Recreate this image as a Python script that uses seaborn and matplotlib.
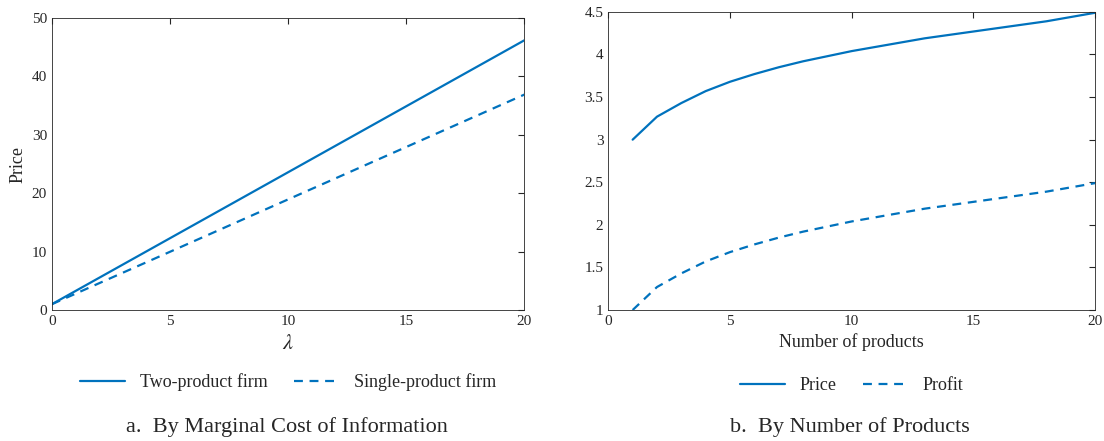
import numpy as np
import pandas as pd
import matplotlib
matplotlib.use("Agg")
import matplotlib.pyplot as plt
import seaborn as sns

# panel a: price against lambda
lam = [0, 20]
two_product = [1.0, 46.2]
single_product = [1.0, 36.9]

# panel b: by number of products
n_products = list(range(1, 21))
price = [3.00, 3.27, 3.43, 3.57, 3.68, 3.77, 3.85, 3.92, 3.98, 4.04,
         4.09, 4.14, 4.19, 4.23, 4.27, 4.31, 4.35, 4.39, 4.44, 4.49]
profit = [1.00, 1.27, 1.43, 1.57, 1.68, 1.77, 1.85, 1.92, 1.98, 2.04,
          2.09, 2.14, 2.19, 2.23, 2.27, 2.31, 2.35, 2.39, 2.44, 2.49]

sns.set_style("white")
plt.rcParams['font.family'] = ['Liberation Serif', 'DejaVu Serif']
plt.rcParams['mathtext.fontset'] = 'stix'
col = '#0072BD'

fig = plt.figure(figsize=(11.04, 4.41), dpi=100)
ax1 = fig.add_axes([0.047, 0.297, 0.428, 0.662])
ax2 = fig.add_axes([0.551, 0.297, 0.441, 0.676])

dfa = pd.DataFrame({'x': lam * 2, 'y': two_product + single_product,
                    'firm': ['Two-product firm'] * 2 + ['Single-product firm'] * 2})
sns.lineplot(data=dfa, x='x', y='y', style='firm', color=col, lw=1.6, ax=ax1,
             dashes={'Two-product firm': '', 'Single-product firm': (4, 3)})
ax1.set_xlim(0, 20)
ax1.set_ylim(0, 50)
ax1.set_xticks([0, 5, 10, 15, 20])
ax1.set_yticks([0, 10, 20, 30, 40, 50])
ax1.set_xlabel(r'$\lambda$', fontsize=16, labelpad=5)
ax1.set_ylabel('Price', fontsize=13)
ax1.legend(loc='upper center', bbox_to_anchor=(0.5, -0.16), ncol=2, frameon=False,
           fontsize=13, handlelength=2.5, columnspacing=1.5)
fig.text(0.26, 0.02, 'a.  By Marginal Cost of Information', ha='center', fontsize=16)

dfb = pd.DataFrame({'x': n_products * 2, 'y': price + profit,
                    'kind': ['Price'] * 20 + ['Profit'] * 20})
sns.lineplot(data=dfb, x='x', y='y', style='kind', color=col, lw=1.6, ax=ax2,
             dashes={'Price': '', 'Profit': (4, 3)})
ax2.set_xlim(0, 20)
ax2.set_ylim(1, 4.5)
ax2.set_xticks([0, 5, 10, 15, 20])
ax2.set_yticks([1, 1.5, 2, 2.5, 3, 3.5, 4, 4.5])
ax2.set_yticklabels(['1', '1.5', '2', '2.5', '3', '3.5', '4', '4.5'])
ax2.set_xlabel('Number of products', fontsize=13, labelpad=4)
ax2.set_ylabel('')
ax2.legend(loc='upper center', bbox_to_anchor=(0.5, -0.17), ncol=2, frameon=False,
           fontsize=13, handlelength=2.5, columnspacing=1.5)
fig.text(0.77, 0.02, 'b.  By Number of Products', ha='center', fontsize=16)

for ax in (ax1, ax2):
    ax.tick_params(direction='in', labelsize=11, length=4, top=True, right=True)
    for s in ax.spines.values():
        s.set_color('#262626')
        s.set_linewidth(0.6)

fig.savefig('out.png', dpi=100)
